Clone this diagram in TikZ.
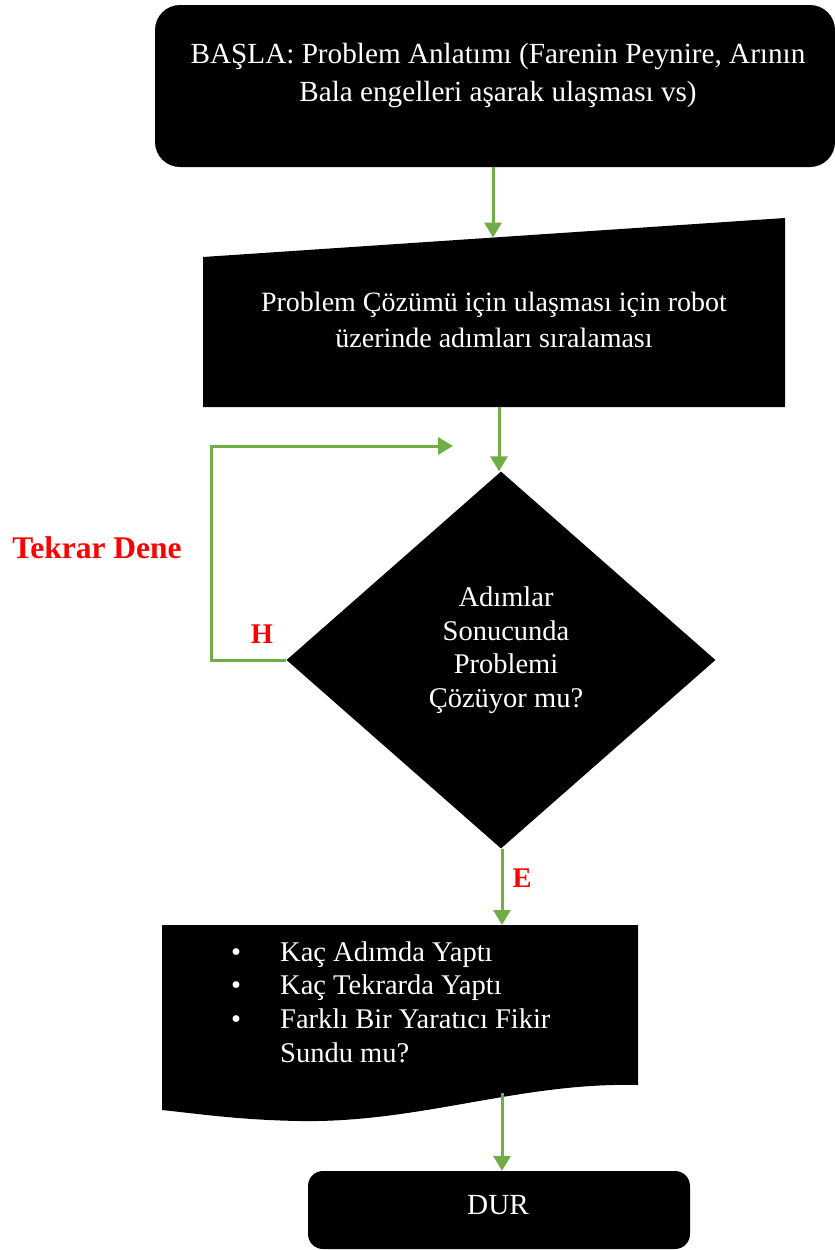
\documentclass[tikz,border=0pt]{standalone}
\usepackage{fontspec}
\setmainfont{Liberation Serif}
\usetikzlibrary{arrows.meta,shapes.geometric}
\definecolor{flowgreen}{HTML}{70AD47}
\definecolor{labelred}{HTML}{FF0000}

\begin{document}
\begin{tikzpicture}[x=1pt,y=-1pt,
  blackbox/.style={fill=black, draw=none, inner sep=0},
  txt/.style={text=white, font=\fontsize{29.2}{38}\selectfont, align=center, inner sep=0},
  flow/.style={draw=flowgreen, line width=3pt, -{Triangle[length=15pt,width=17pt]}},
  tag/.style={text=labelred, font=\bfseries\fontsize{28.5}{34}\selectfont, inner sep=0}]

\useasboundingbox (0,0) rectangle (835,1250);

% start terminal
\node[blackbox, rounded corners=25pt, minimum width=680pt, minimum height=162pt] (start) at (495,86) {};
\node[txt] (starttext) at (498,76) {BAŞLA: Problem Anlatımı (Farenin Peynire, Arının\\Bala engelleri aşarak ulaşması vs)};

% manual input block (sloped top edge)
\coordinate (mitl) at (203,257);
\coordinate (mitr) at (785,218);
\coordinate (mibr) at (785,407);
\coordinate (mibl) at (203,407);
\fill[black] (mitl) -- (mitr) -- (mibr) -- (mibl) -- cycle;
\node[txt, font=\fontsize{28}{36}\selectfont] (steps) at (494,320) {Problem Çözümü için ulaşması için robot\\üzerinde adımları sıralaması};
\coordinate (stepsin) at (493,237.6);
\coordinate (stepsout) at (499,407);

% decision
\node[diamond, fill=black, inner sep=0, minimum width=429pt, minimum height=377pt] (check) at (501,660) {};
\node[txt, font=\fontsize{28.5}{33.5}\selectfont] (checktext) at (506,650) {Adımlar\\Sonucunda\\Problemi\\Çözüyor mu?};

% document block with wavy bottom
\fill[black] (162,925) -- (638,925) -- (638,1085)
  .. controls (520,1082) and (420,1123) .. (300,1121)
  .. controls (240,1120) and (200,1114) .. (162,1110) -- cycle;
\coordinate (reportin) at (502,925);
\coordinate (reportout) at (502,1093);
\node[text=white, inner sep=0, anchor=base west, font=\fontsize{28.5}{33.7}\selectfont] (report) at (231,961)
  {\begin{tabular}[t]{@{}p{49pt}@{}l@{}}
   \textbullet & Kaç Adımda Yaptı\\
   \textbullet & Kaç Tekrarda Yaptı\\
   \textbullet & Farklı Bir Yaratıcı Fikir\\
               & Sundu mu?
   \end{tabular}};

% stop terminal
\node[blackbox, rounded corners=15pt, minimum width=382pt, minimum height=78pt] (stop) at (499,1210) {};
\node[txt] (stoptext) at (498,1205) {DUR};

% connectors
\draw[flow] (start.south -| stepsin) -- (stepsin);
\draw[flow] (stepsout) -- (stepsout |- check.north);
\coordinate (loopend) at (453,446);
\draw[flow] (check.west) -- ++(-75,0) |- (loopend);
\draw[flow] (check.south -| reportin) -- (reportin);
\draw[flow] (reportout) -- (stop.north -| reportout);

% branch labels
\node[tag] (no) at (262,634) {H};
\node[tag] (yes) at (522,878) {E};
\node[tag, font=\bfseries\fontsize{31.5}{36}\selectfont] (retry) at (97,548) {Tekrar Dene};

\end{tikzpicture}
\end{document}
